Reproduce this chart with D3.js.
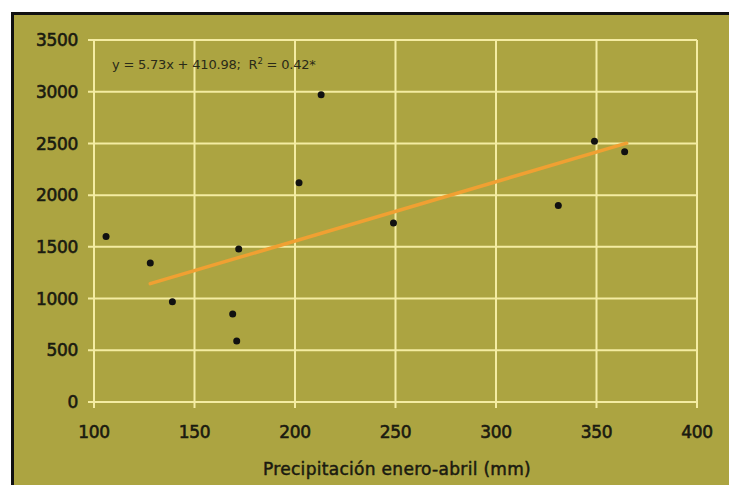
<!DOCTYPE html>
<html>
<head>
<meta charset="utf-8">
<script src="https://cdn.jsdelivr.net/npm/d3@7"></script>
<style>
  html, body { margin: 0; padding: 0; background: #ffffff; }
  svg { display: block; }
  text { white-space: pre; }
</style>
</head>
<body>
<svg id="chart" width="729" height="485"></svg>
<script>
// ---- data ----
const precip = [106, 128, 139, 169, 171, 172, 202, 213, 249, 331, 349, 364];
const yieldVals = [1600, 1345, 970, 850, 590, 1480, 2120, 2970, 1730, 1900, 2520, 2420];
const xTicks = [100, 150, 200, 250, 300, 350, 400];
const yTicks = [0, 500, 1000, 1500, 2000, 2500, 3000, 3500];
const slope = [5.73];
const intercept = [410.98];
const trendRange = [128, 365];
const equationText = ["y = 5.73x + 410.98;  R"];
const xTitle = ["Precipitación enero-abril (mm)"];

const svg = d3.select("#chart");
const W = 729, H = 485;

// panel
svg.append("rect").attr("x", 12).attr("y", 13).attr("width", W - 12).attr("height", H - 13)
  .attr("fill", "#aca441");
svg.append("line").attr("x1", 12).attr("x2", W).attr("y1", 13.5).attr("y2", 13.5)
  .attr("stroke", "#111").attr("stroke-width", 3);
svg.append("line").attr("x1", 12.5).attr("x2", 12.5).attr("y1", 12).attr("y2", H)
  .attr("stroke", "#111").attr("stroke-width", 3);

const x = d3.scaleLinear().domain([100, 400]).range([94, 697]);
const y = d3.scaleLinear().domain([0, 3500]).range([402, 40]);

const grid = "#f4eca2";
// horizontal grid
svg.append("g").selectAll("line").data(yTicks).join("line")
  .attr("x1", 88).attr("x2", x(400)).attr("y1", d => y(d)).attr("y2", d => y(d))
  .attr("stroke", grid).attr("stroke-width", 2);
// vertical grid
svg.append("g").selectAll("line").data(xTicks).join("line")
  .attr("x1", d => x(d)).attr("x2", d => x(d)).attr("y1", y(3500)).attr("y2", 408)
  .attr("stroke", grid).attr("stroke-width", 2);

const font = "DejaVu Sans, Verdana, sans-serif";
const ink = "#1a1a10";
// y tick labels
svg.append("g").selectAll("text").data(yTicks).join("text")
  .attr("x", 78).attr("y", d => y(d)).attr("dy", "0.36em")
  .attr("text-anchor", "end").attr("font-family", font).attr("font-size", 17)
  .attr("fill", ink).attr("stroke", ink).attr("stroke-width", 0.6)
  .attr("letter-spacing", -0.3)
  .text(d => d);
// x tick labels
svg.append("g").selectAll("text").data(xTicks).join("text")
  .attr("x", d => x(d)).attr("y", 438)
  .attr("text-anchor", "middle").attr("font-family", font).attr("font-size", 17)
  .attr("fill", ink).attr("stroke", ink).attr("stroke-width", 0.6)
  .attr("letter-spacing", -0.3)
  .text(d => d);

// x title
svg.append("text").attr("x", 397).attr("y", 475).attr("text-anchor", "middle")
  .attr("font-family", font).attr("font-size", 17).attr("fill", ink)
  .attr("stroke", ink).attr("stroke-width", 0.5)
  .attr("letter-spacing", 0.3)
  .text(xTitle[0]);

// equation
const eq = svg.append("text").attr("x", 112).attr("y", 69)
  .attr("font-family", font).attr("font-size", 13).attr("fill", "#2a2a18")
  .attr("letter-spacing", -0.2);
eq.append("tspan").text(equationText[0]);
eq.append("tspan").attr("dy", -5).attr("font-size", 8.5).text("2");
eq.append("tspan").attr("dy", 5).text(" = 0.42*");

// trend line
svg.append("line")
  .attr("x1", x(trendRange[0])).attr("y1", y(slope[0] * trendRange[0] + intercept[0]))
  .attr("x2", x(trendRange[1])).attr("y2", y(slope[0] * trendRange[1] + intercept[0]))
  .attr("stroke", "#f0a032").attr("stroke-width", 3.5).attr("stroke-linecap", "round");

// points
svg.append("g").selectAll("circle").data(precip.map((p, i) => [p, yieldVals[i]])).join("circle")
  .attr("cx", d => x(d[0])).attr("cy", d => y(d[1])).attr("r", 3.5)
  .attr("fill", "#111");
</script>
</body>
</html>
